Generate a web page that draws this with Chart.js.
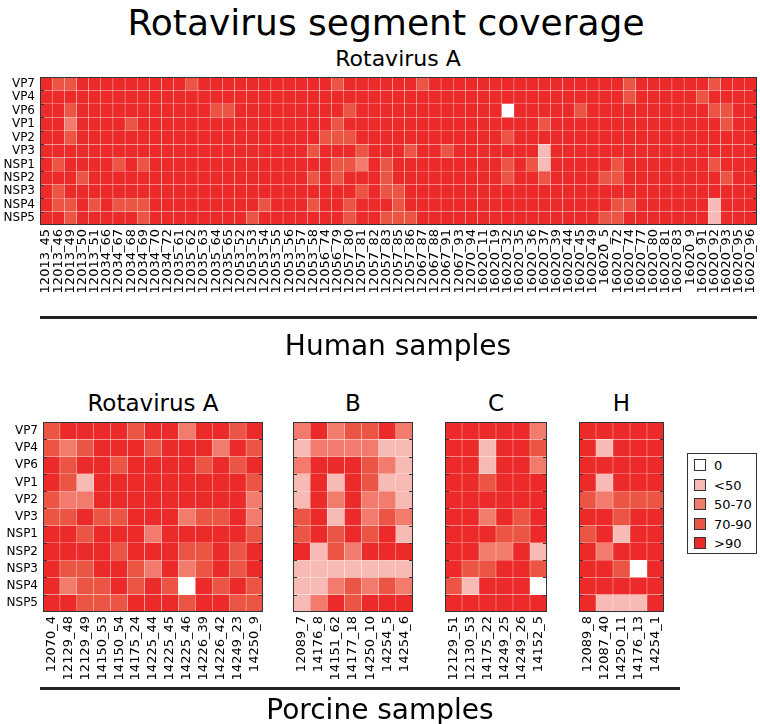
<!DOCTYPE html>
<html>
<head>
<meta charset="utf-8">
<script src="https://cdn.jsdelivr.net/npm/chart.js@4.4.1/dist/chart.umd.min.js"></script>
<style>
  body { margin: 0; background: #fff; }
  #page { position: relative; width: 760px; height: 724px; overflow: hidden; font-family: "DejaVu Sans", sans-serif; color: #000; }
  #page canvas, #page .txt, #page .rule { position: absolute; }
  .txt { text-align: center; white-space: nowrap; line-height: 1; }
  .rule { height: 3px; background: #222; }
  #legend { position: absolute; left: 687px; top: 453px; width: 68px; height: 99px; border: 1px solid #333; background: #fff; font-size: 13px; }
  #legend div { position: absolute; left: 6px; height: 14px; line-height: 14px; }
  #legend span { display: inline-block; width: 10px; height: 10px; border: 1px solid #333; vertical-align: -1px; margin-right: 8px; }
</style>
</head>
<body>
<div id="page">
  <div class="txt" style="left:6px;top:5px;width:760px;font-size:36px;">Rotavirus segment coverage</div>
  <div class="txt" style="left:18px;top:48px;width:760px;font-size:22px;">Rotavirus A</div>
  <canvas id="human" width="760" height="250" style="left:0;top:70px;"></canvas>
  <div class="rule" style="left:40px;top:316px;width:717px;"></div>
  <div class="txt" style="left:18px;top:332px;width:760px;font-size:28px;">Human samples</div>

  <div class="txt" style="left:43px;top:392px;width:220px;font-size:23px;">Rotavirus A</div>
  <div class="txt" style="left:293px;top:392px;width:120px;font-size:23px;">B</div>
  <div class="txt" style="left:445px;top:392px;width:102px;font-size:23px;">C</div>
  <div class="txt" style="left:579px;top:392px;width:85px;font-size:23px;">H</div>
  <canvas id="pigA" width="270" height="280" style="left:0;top:415px;"></canvas>
  <canvas id="pigB" width="135" height="280" style="left:285px;top:415px;"></canvas>
  <canvas id="pigC" width="120" height="280" style="left:437px;top:415px;"></canvas>
  <canvas id="pigH" width="100" height="280" style="left:571px;top:415px;"></canvas>
  <div id="legend"></div>
  <div class="rule" style="left:40px;top:687px;width:640px;"></div>
  <div class="txt" style="left:0;top:696px;width:760px;font-size:28px;">Porcine samples</div>
</div>
<script>
const segments = ['VP7','VP4','VP6','VP1','VP2','VP3','NSP1','NSP2','NSP3','NSP4','NSP5'];
const coverageBins = ['0','<50','50-70','70-90','>90'];
const binColors = ['#ffffff','#f8bab4','#f27b6d','#ec5444','#ec2a2a'];

const humanSamples = ['12013_45','12013_46','12013_49','12013_50','12013_51','12034_66','12034_67','12034_68','12034_69','12034_70',
  '12034_72','12035_61','12035_62','12035_63','12035_64','12035_65','12053_52','12053_53','12053_54','12053_55',
  '12053_56','12053_57','12053_58','12056_74','12056_79','12057_80','12057_81','12057_82','12057_83','12057_85',
  '12057_86','12067_87','12067_88','12067_91','12067_93','12070_94','16020_11','16020_19','16020_32','16020_35',
  '16020_36','16020_37','16020_39','16020_44','16020_45','16020_49','16020_5','16020_72','16020_74','16020_77',
  '16020_80','16020_81','16020_83','16020_9','16020_91','16020_92','16020_93','16020_95','16020_96'];
const pigSamplesA = ['12070_4','12129_48','12129_49','14150_53','14150_54','14175_24','14225_44','14225_45','14225_46','14226_39','14226_42','14249_23','14250_9'];
const pigSamplesB = ['12089_7','14176_8','14151_62','14177_18','14250_10','14254_5','14254_6'];
const pigSamplesC = ['12129_51','12130_53','14175_22','14249_25','14249_26','14152_5'];
const pigSamplesH = ['12089_8','12087_40','14250_11','14176_13','14254_1'];

// one string per segment, one digit per sample = index into coverageBins
const humanCoverage = [
  '4334444444'+'4434444444'+'4444344444'+'4344444444'+'4444444434'+'444443444',
  '4444444444'+'4444444444'+'4444444444'+'4444444444'+'4444444434'+'444434444',
  '4434444444'+'4444334444'+'4444434444'+'4444444404'+'4444344444'+'444443344',
  '4424444344'+'4444444444'+'4444344444'+'4444444444'+'4344444444'+'444444344',
  '4434444444'+'4444444444'+'4443334444'+'4444444434'+'4444444444'+'444444444',
  '4444444444'+'4444444444'+'4434443444'+'3443444444'+'4144444444'+'444444444',
  '4344443434'+'4444444444'+'4444332434'+'4444444434'+'3144444344'+'444443444',
  '4443444444'+'4444444444'+'4434344434'+'4444444434'+'4344443344'+'444444344',
  '4344444444'+'4444444444'+'4444443433'+'4444444444'+'4444444444'+'444444444',
  '4334343334'+'4444444434'+'4434434443'+'4444444444'+'4444444334'+'444441444',
  '4434444434'+'4444444344'+'4444434433'+'3444444444'+'4444443344'+'444441444'
];
const pigCoverageA = ['3444434424434','3234443444243','4344344443434','4314444444443','3224444444442','3343344423342',
  '4434442444443','4444344433434','4334432423434','4233434304343','4433344434433'];
const pigCoverageB = ['2423342','1222211','2444321','1414311','1424221','3414232','3434341','4132444','1111111','1123232','1243444'];
const pigCoverageC = ['444442','441443','441442','443444','444444','442434','444334','442241','433443','314440','444444'];
const pigCoverageH = ['44444','41444','44444','41444','32333','44344','34144','42444','44304','44444','41114'];

const FONT = 'DejaVu Sans';

const framePlugin = {
  id: 'frame',
  afterDraw(chart) {
    const { ctx, chartArea: a } = chart;
    const y = chart.scales.y;
    ctx.save();
    ctx.strokeStyle = '#333';
    ctx.lineWidth = 1;
    ctx.strokeRect(a.left + 0.5, a.top + 0.5, a.right - a.left - 1, a.bottom - a.top - 1);
    ctx.beginPath();
    for (let i = 1; i < segments.length; i++) {
      const py = Math.round(y.getPixelForValue(i)) + 0.5;
      ctx.moveTo(a.left, py); ctx.lineTo(a.left + 4, py);
      ctx.moveTo(a.right, py); ctx.lineTo(a.right - 4, py);
    }
    ctx.stroke();
    ctx.restore();
  }
};

function noPad(s) {
  s.paddingTop = 0; s.paddingBottom = 0; s.paddingLeft = 0; s.paddingRight = 0;
}

function heatmap(id, samples, coverage, o) {
  const rowsUp = segments.slice().reverse();
  const datasets = rowsUp.map(seg => {
    const codes = coverage[segments.indexOf(seg)];
    return {
      label: seg,
      data: samples.map(() => 1),
      backgroundColor: samples.map((s, j) => binColors[+codes[j]]),
      borderColor: 'rgba(255,255,255,0.16)',
      borderWidth: 0.5,
      borderSkipped: false,
      barPercentage: 1,
      categoryPercentage: 1
    };
  });
  new Chart(document.getElementById(id), {
    type: 'bar',
    data: { labels: samples, datasets },
    plugins: [framePlugin],
    options: {
      responsive: false,
      animation: false,
      layout: { padding: { top: o.top, right: o.right, left: 0, bottom: 0 } },
      plugins: { legend: { display: false }, tooltip: { enabled: false } },
      scales: {
        x: {
          stacked: true,
          grid: { display: false, drawTicks: false },
          border: { display: false },
          afterFit: s => { s.height = o.xh; noPad(s); },
          ticks: { autoSkip: false, minRotation: 90, maxRotation: 90, padding: 4, color: '#000', font: { family: FONT, size: 13 } }
        },
        y: {
          type: 'linear',
          stacked: true,
          min: 0,
          max: segments.length,
          grid: { display: false, drawTicks: false },
          border: { display: false },
          afterFit: s => { s.width = o.yw; noPad(s); },
          afterBuildTicks: s => { s.ticks = rowsUp.map((r, i) => ({ value: i + 0.5 })); },
          ticks: {
            display: o.yLabels,
            autoSkip: false,
            padding: 5,
            color: '#000',
            font: { family: FONT, size: 12 },
            callback: (v, i) => rowsUp[i]
          }
        }
      }
    }
  });
}

heatmap('human', humanSamples, humanCoverage, { top: 7, right: 3, xh: 95, yw: 40, yLabels: true });
heatmap('pigA', pigSamplesA, pigCoverageA, { top: 7, right: 7, xh: 83, yw: 43, yLabels: true });
heatmap('pigB', pigSamplesB, pigCoverageB, { top: 7, right: 7, xh: 83, yw: 8, yLabels: false });
heatmap('pigC', pigSamplesC, pigCoverageC, { top: 7, right: 10, xh: 83, yw: 8, yLabels: false });
heatmap('pigH', pigSamplesH, pigCoverageH, { top: 7, right: 7, xh: 83, yw: 8, yLabels: false });

const legend = document.getElementById('legend');
coverageBins.forEach((b, i) => {
  const d = document.createElement('div');
  d.style.top = (5 + i * 19.5) + 'px';
  d.innerHTML = '<span style="background:' + binColors[i] + '"></span>' + b.replace('<', '&lt;').replace('>', '&gt;');
  legend.appendChild(d);
});
</script>
</body>
</html>
